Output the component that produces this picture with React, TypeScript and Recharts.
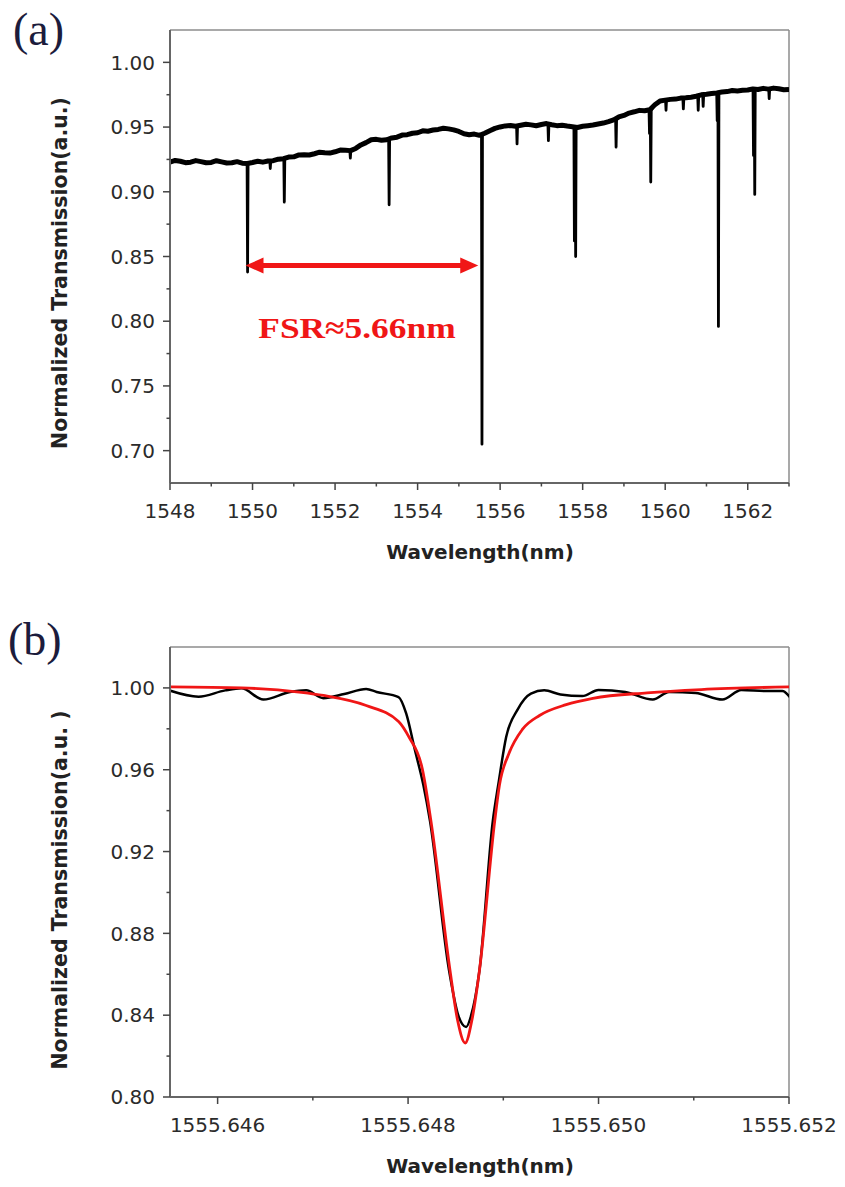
import { LineChart, Line, XAxis, YAxis, ReferenceLine, ReferenceDot } from 'recharts';

// (a) broadband transmission: noisy slow baseline + narrow resonance dips
const aBaseWl = [
  1548, 1548.125, 1548.25, 1548.375, 1548.5, 1548.625, 1548.75, 1548.875,
  1549, 1549.125, 1549.25, 1549.375, 1549.5, 1549.625, 1549.75, 1549.875,
  1550, 1550.125, 1550.25, 1550.375, 1550.5, 1550.625, 1550.75, 1550.875,
  1551, 1551.125, 1551.25, 1551.375, 1551.5, 1551.625, 1551.75, 1551.875,
  1552, 1552.125, 1552.25, 1552.375, 1552.5, 1552.625, 1552.75, 1552.875,
  1553, 1553.125, 1553.25, 1553.375, 1553.5, 1553.625, 1553.75, 1553.875,
  1554, 1554.125, 1554.25, 1554.375, 1554.5, 1554.625, 1554.75, 1554.875,
  1555, 1555.125, 1555.25, 1555.375, 1555.5, 1555.625, 1555.75, 1555.875,
  1556, 1556.125, 1556.25, 1556.375, 1556.5, 1556.625, 1556.75, 1556.875,
  1557, 1557.125, 1557.25, 1557.375, 1557.5, 1557.625, 1557.75, 1557.875,
  1558, 1558.125, 1558.25, 1558.375, 1558.5, 1558.625, 1558.75, 1558.875,
  1559, 1559.125, 1559.25, 1559.375, 1559.5, 1559.625, 1559.75, 1559.875,
  1560, 1560.125, 1560.25, 1560.375, 1560.5, 1560.625, 1560.75, 1560.875,
  1561, 1561.125, 1561.25, 1561.375, 1561.5, 1561.625, 1561.75, 1561.875,
  1562, 1562.125, 1562.25, 1562.375, 1562.5, 1562.625, 1562.75, 1562.875, 1563,
];
const aBaseT = [
  0.923, 0.9242, 0.9236, 0.9225, 0.9229, 0.9241, 0.9233, 0.9224,
  0.9227, 0.924, 0.9231, 0.9222, 0.9224, 0.9233, 0.9221, 0.9218,
  0.9226, 0.9236, 0.9229, 0.9238, 0.924, 0.9252, 0.9256, 0.9268,
  0.927, 0.9285, 0.9286, 0.9284, 0.9294, 0.9306, 0.9302, 0.9299,
  0.9309, 0.9322, 0.932, 0.9318, 0.9335, 0.9362, 0.938, 0.9402,
  0.9405, 0.9398, 0.9402, 0.9416, 0.9422, 0.9438, 0.9441, 0.9452,
  0.9456, 0.9471, 0.9468, 0.9477, 0.9482, 0.9491, 0.9486, 0.9478,
  0.9466, 0.9448, 0.9441, 0.9446, 0.9436, 0.9452, 0.9472, 0.949,
  0.9501, 0.9509, 0.9512, 0.9506, 0.9514, 0.9522, 0.9517, 0.951,
  0.952, 0.9527, 0.9518, 0.9511, 0.9514, 0.9508, 0.9503, 0.9497,
  0.9506, 0.9511, 0.9516, 0.9524, 0.9531, 0.9542, 0.9556, 0.9578,
  0.959, 0.9608, 0.9618, 0.9629, 0.9626, 0.9634, 0.9672, 0.9701,
  0.9708, 0.9714, 0.9716, 0.9724, 0.9726, 0.9731, 0.9738, 0.9749,
  0.9754, 0.976, 0.9764, 0.9771, 0.9774, 0.9782, 0.9779, 0.9784,
  0.9786, 0.9795, 0.979, 0.9799, 0.9793, 0.9801, 0.9796, 0.9788, 0.979,
];
const aDipWl = [
  1549.88, 1550.43, 1550.77, 1552.37, 1553.31, 1555.56, 1556.41, 1557.17, 1557.8, 1557.83, 1558.81,
  1559.62, 1559.65, 1560.02, 1560.44, 1560.8, 1560.92, 1561.26, 1561.29, 1562.14, 1562.17, 1562.52,
];
const aDipTop = [
  0.9222, 0.924, 0.9256, 0.932, 0.9404, 0.944, 0.9512, 0.952, 0.9504, 0.9505, 0.9556,
  0.9625, 0.9628, 0.9709, 0.9722, 0.9739, 0.9748, 0.9764, 0.9765, 0.9786, 0.9787, 0.9793,
];
const aDipMin = [
  0.838, 0.918, 0.892, 0.926, 0.89, 0.705, 0.937, 0.9395, 0.862, 0.85, 0.9345,
  0.945, 0.9075, 0.963, 0.964, 0.963, 0.966, 0.955, 0.796, 0.928, 0.898, 0.972,
];

const aXDomain = [1548, 1563];
const aYDomain = [0.675, 1.025];
const aXMajor = [1548, 1550, 1552, 1554, 1556, 1558, 1560, 1562];
const aXMinor = [1549, 1551, 1553, 1555, 1557, 1559, 1561, 1563];
const aYMajor = [0.7, 0.75, 0.8, 0.85, 0.9, 0.95, 1.0];
const aYMinor = [0.725, 0.775, 0.825, 0.875, 0.925, 0.975];

// FSR annotation
const fsrFrom = 1549.83;
const fsrTo = 1555.47;
const fsrLevel = 0.843;
const fsrTextWl = 1552.53;
const fsrTextT = 0.7874;

// (b) single resonance, measured (black) and Lorentzian fit (red)
const bMeasWl = [
  1555.64549, 1555.6458, 1555.64608, 1555.64625, 1555.64648, 1555.64676, 1555.64693, 1555.64711,
  1555.64733, 1555.64756, 1555.64767, 1555.6479, 1555.64798, 1555.64807, 1555.64816, 1555.64823,
  1555.64843, 1555.64853, 1555.64861, 1555.64866, 1555.64875, 1555.64889, 1555.64895, 1555.64903,
  1555.64915, 1555.64929, 1555.64943, 1555.6496, 1555.64983, 1555.65, 1555.65028, 1555.65057,
  1555.65074, 1555.65102, 1555.6513, 1555.6515, 1555.65176, 1555.65193, 1555.65201,
];
const bMeasT = [
  0.9988, 0.9957, 0.9988, 0.9998, 0.9943, 0.998, 0.9988, 0.995,
  0.997, 0.9995, 0.998, 0.9955, 0.9875, 0.97, 0.9526, 0.935,
  0.862, 0.8395, 0.8342, 0.8395, 0.862, 0.935, 0.9535, 0.976,
  0.9894, 0.9972, 0.9988, 0.9968, 0.996, 0.999, 0.998, 0.9943,
  0.998, 0.9975, 0.9943, 0.999, 0.9985, 0.9985, 0.9955,
];
const bFitWl = [
  1555.64549, 1555.64625, 1555.64688, 1555.64711, 1555.64756, 1555.6479, 1555.64801, 1555.64815,
  1555.64824, 1555.64844, 1555.64852, 1555.6486, 1555.64867, 1555.64875, 1555.64891, 1555.64896,
  1555.64906, 1555.6492, 1555.64938, 1555.64966, 1555.64994, 1555.65051, 1555.65108, 1555.65201,
];
const bFitT = [
  1.0005, 1.0, 0.9978, 0.9963, 0.9914, 0.9836, 0.9759, 0.9603,
  0.935, 0.862, 0.8375, 0.8264, 0.8375, 0.862, 0.935, 0.9526,
  0.968, 0.9797, 0.9865, 0.9918, 0.9949, 0.9976, 0.9992, 1.0005,
];

const bXDomain = [1555.6455, 1555.652];
const bYDomain = [0.8, 1.02];
const bXMajor = [1555.646, 1555.648, 1555.65, 1555.652];
const bXMinor = [1555.647, 1555.649, 1555.651];
const bYMajor = [0.8, 0.84, 0.88, 0.92, 0.96, 1.0];
const bYMinor = [0.82, 0.86, 0.9, 0.94, 0.98];

const aBase = aBaseWl.map((w, i) => ({ w, t: aBaseT[i] }));
// baseline samples too close to a dip are left out so the spike stays clean
const aSpec = [
  ...aBase.filter((p) => !aDipWl.some((d) => Math.abs(d - p.w) < 0.02)),
  ...aDipWl.flatMap((w, i) => [
    { w: w - 0.012, t: aDipTop[i] },
    { w, t: aDipMin[i] },
    { w: w + 0.012, t: aDipTop[i] },
  ]),
].sort((p, q) => p.w - q.w);
const bMeas = bMeasWl.map((w, i) => ({ w, t: bMeasT[i] }));
const bFit = bFitWl.map((w, i) => ({ w, t: bFitT[i] }));

const axisGrey = '#666';
const frameGrey = '#8c8c8c';
const tickInk = '#2b2b2b';
const fitRed = '#f01616';
const sans = "'DejaVu Sans', Arial, sans-serif";
const serif = "'Liberation Serif', 'Times New Roman', serif";

// one tick renderer for major (labelled) and minor (short mark) ticks
function makeTick(dir: 'x' | 'y', majors: number[], fmt: (v: number) => string) {
  return (props: any) => {
    const { x, y, payload } = props;
    const v = payload.value;
    const major = majors.some((m) => Math.abs(m - v) < 1e-9);
    const len = major ? 7 : 3.5;
    if (dir === 'y') {
      return (
        <g>
          <line x1={x} y1={y} x2={x - len} y2={y} stroke="#444" strokeWidth={1.5} />
          {major && (
            <text x={x - 15} y={y} dy="0.36em" textAnchor="end" fontFamily={sans} fontSize={20} fill={tickInk}>
              {fmt(v)}
            </text>
          )}
        </g>
      );
    }
    return (
      <g>
        <line x1={x} y1={y} x2={x} y2={y + len} stroke="#444" strokeWidth={1.5} />
        {major && (
          <text x={x} y={y + 35} textAnchor="middle" fontFamily={sans} fontSize={20} fill={tickInk}>
            {fmt(v)}
          </text>
        )}
      </g>
    );
  };
}

function FsrArrow(p: any) {
  const { x1, y1, x2 } = p;
  const head = 18;
  return (
    <g>
      <line x1={x1 + head - 2} y1={y1} x2={x2 - head + 2} y2={y1} stroke={fitRed} strokeWidth={5} />
      <polygon points={`${x1},${y1} ${x1 + head},${y1 - 8} ${x1 + head},${y1 + 8}`} fill={fitRed} />
      <polygon points={`${x2},${y1} ${x2 - head},${y1 - 8} ${x2 - head},${y1 + 8}`} fill={fitRed} />
    </g>
  );
}

function FsrText(p: any) {
  return (
    <text
      transform={`translate(${p.cx} ${p.cy}) scale(1.18 1)`}
      textAnchor="middle"
      fontFamily={serif}
      fontWeight="bold"
      fontSize={30}
      fill={fitRed}
    >
      FSR≈5.66nm
    </text>
  );
}

export default function App() {
  return (
    <div style={{ position: 'absolute', left: 0, top: 0, width: 845, height: 1187, background: '#fff' }}>
      <div style={{ position: 'absolute', left: 0, top: 0 }}>
        <LineChart width={845} height={600} margin={{ top: 30, right: 56, left: 70, bottom: 57 }}>
          <XAxis
            type="number"
            dataKey="w"
            domain={aXDomain}
            allowDataOverflow
            ticks={[...aXMajor, ...aXMinor].sort((a, b) => a - b)}
            interval={0}
            height={60}
            tickSize={0}
            tickMargin={0}
            tickLine={false}
            axisLine={{ stroke: axisGrey, strokeWidth: 2 }}
            tick={makeTick('x', aXMajor, (v) => String(v))}
          />
          <YAxis
            type="number"
            dataKey="t"
            domain={aYDomain}
            allowDataOverflow
            ticks={[...aYMajor, ...aYMinor].sort((a, b) => a - b)}
            interval={0}
            width={100}
            tickSize={0}
            tickMargin={0}
            tickLine={false}
            axisLine={{ stroke: axisGrey, strokeWidth: 2 }}
            tick={makeTick('y', aYMajor, (v) => v.toFixed(2))}
          />
          <ReferenceLine y={aYDomain[1]} stroke={frameGrey} strokeWidth={1.5} />
          <ReferenceLine x={aXDomain[1]} stroke={frameGrey} strokeWidth={1.5} />
          <Line data={aBase} dataKey="t" type="linear" stroke="#000" strokeWidth={5} strokeLinejoin="round" dot={false} isAnimationActive={false} />
          <Line data={aSpec} dataKey="t" type="linear" stroke="#000" strokeWidth={2.8} strokeLinejoin="round" dot={false} isAnimationActive={false} />
          <ReferenceLine
            segment={[{ x: fsrFrom, y: fsrLevel }, { x: fsrTo, y: fsrLevel }]}
            stroke={fitRed}
            shape={FsrArrow}
          />
          <ReferenceDot x={fsrTextWl} y={fsrTextT} r={1} shape={FsrText} />
        </LineChart>
      </div>

      <div style={{ position: 'absolute', left: 0, top: 600 }}>
        <LineChart width={845} height={587} margin={{ top: 47, right: 56, left: 70, bottom: 30 }}>
          <XAxis
            type="number"
            dataKey="w"
            domain={bXDomain}
            allowDataOverflow
            ticks={[...bXMajor, ...bXMinor].sort((a, b) => a - b)}
            interval={0}
            height={60}
            tickSize={0}
            tickMargin={0}
            tickLine={false}
            axisLine={{ stroke: axisGrey, strokeWidth: 2 }}
            tick={makeTick('x', bXMajor, (v) => v.toFixed(3))}
          />
          <YAxis
            type="number"
            dataKey="t"
            domain={bYDomain}
            allowDataOverflow
            ticks={[...bYMajor, ...bYMinor].sort((a, b) => a - b)}
            interval={0}
            width={100}
            tickSize={0}
            tickMargin={0}
            tickLine={false}
            axisLine={{ stroke: axisGrey, strokeWidth: 2 }}
            tick={makeTick('y', bYMajor, (v) => v.toFixed(2))}
          />
          <ReferenceLine y={bYDomain[1]} stroke={frameGrey} strokeWidth={1.5} />
          <ReferenceLine x={bXDomain[1]} stroke={frameGrey} strokeWidth={1.5} />
          <Line data={bMeas} dataKey="t" type="monotone" stroke="#000" strokeWidth={2.5} dot={false} isAnimationActive={false} />
          <Line data={bFit} dataKey="t" type="monotone" stroke={fitRed} strokeWidth={2.8} dot={false} isAnimationActive={false} />
        </LineChart>
      </div>

      <svg width={845} height={1187} style={{ position: 'absolute', left: 0, top: 0, pointerEvents: 'none' }}>
        <text x={13} y={45} fontFamily={serif} fontSize={46} fill="#1c1c3c">(a)</text>
        <text x={8} y={655} fontFamily={serif} fontSize={46} fill="#1c1c3c">(b)</text>
        <text transform="translate(67 273) rotate(-90)" textAnchor="middle" fontFamily={sans} fontWeight="bold" fontSize={20.5} fill="#222">
          Normalized Transmission(a.u.)
        </text>
        <text transform="translate(67 890) rotate(-90)" textAnchor="middle" fontFamily={sans} fontWeight="bold" fontSize={20.5} fill="#222">
          Normalized Transmission(a.u. )
        </text>
        <text x={480} y={559} textAnchor="middle" fontFamily={sans} fontWeight="bold" fontSize={20} fill="#222">
          Wavelength(nm)
        </text>
        <text x={480} y={1173} textAnchor="middle" fontFamily={sans} fontWeight="bold" fontSize={20} fill="#222">
          Wavelength(nm)
        </text>
      </svg>
    </div>
  );
}
